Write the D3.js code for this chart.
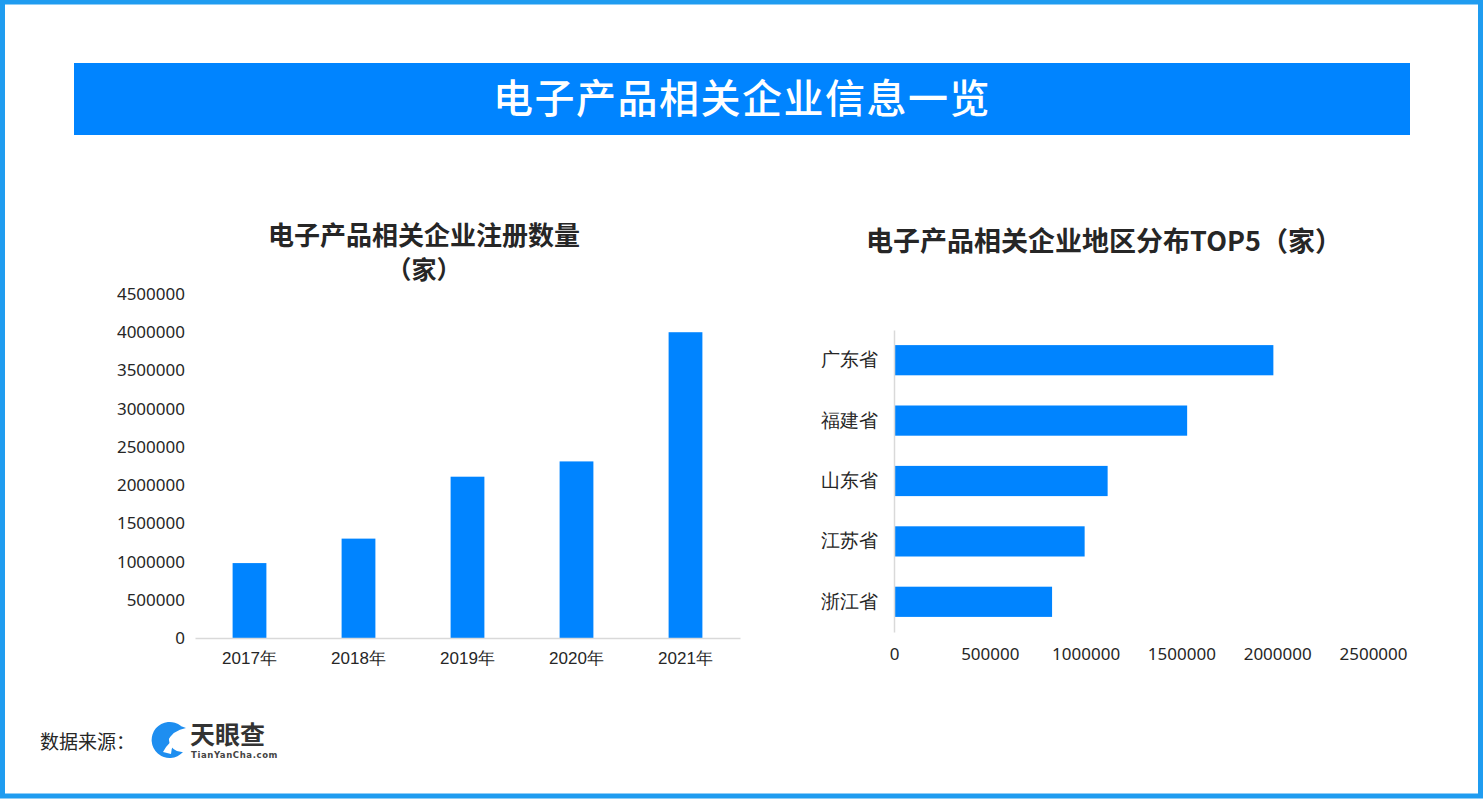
<!DOCTYPE html>
<html><head><meta charset="utf-8">
<script src="https://cdn.jsdelivr.net/npm/d3@7"></script>
<style>
html,body{margin:0;padding:0;background:#fff;}
svg{display:block;font-family:"Noto Sans CJK SC","Noto Sans",sans-serif;}
</style></head>
<body>
<svg id="c" width="1484" height="800"></svg>
<script>
// ---- data ----
const mainTitle = "电子产品相关企业信息一览";
const leftTitle = ["电子产品相关企业注册数量", "（家）"];
const years = ["2017年", "2018年", "2019年", "2020年", "2021年"];
const regCounts = [980000, 1300000, 2110000, 2310000, 4000000];
const leftTicks = [0, 500000, 1000000, 1500000, 2000000, 2500000, 3000000, 3500000, 4000000, 4500000];
const rightTitle = "电子产品相关企业地区分布TOP5（家）";
const provinces = ["广东省", "福建省", "山东省", "江苏省", "浙江省"];
const provCounts = [1980000, 1530000, 1115000, 995000, 825000];
const rightTicks = [0, 500000, 1000000, 1500000, 2000000, 2500000];
const sourceLabel = "数据来源：";

const blue = "#0084ff";
const textCol = "#262626";
const svg = d3.select("#c");

// frame
svg.append("rect").attr("x",2.5).attr("y",2).attr("width",1478).attr("height",794)
  .attr("fill","none").attr("stroke","#1f9cf0").attr("stroke-width",5);

// header banner
svg.append("rect").attr("x",74).attr("y",63).attr("width",1336).attr("height",72).attr("fill",blue);
svg.append("text").attr("x",742).attr("y",113).attr("text-anchor","middle")
  .attr("fill","#fff").attr("font-size",40).attr("font-weight",500).attr("letter-spacing",1.5).text(mainTitle);

// ---- left chart ----
const lx = d3.scaleBand().domain(years).range([195,740]).paddingInner(0.69).paddingOuter(0.345);
const ly = d3.scaleLinear().domain([0,4500000]).range([638,294]);

svg.append("text").attr("x",424).attr("y",245).attr("text-anchor","middle")
  .attr("font-size",26).attr("font-weight",700).attr("fill",textCol).text(leftTitle[0]);
svg.append("text").attr("x",424).attr("y",279).attr("text-anchor","middle")
  .attr("font-size",25).attr("font-weight",700).attr("fill",textCol).text(leftTitle[1]);

const gl = svg.append("g");
gl.selectAll("rect.bar").data(regCounts).join("rect").attr("class","bar")
  .attr("x",(d,i)=>lx(years[i])).attr("width",lx.bandwidth())
  .attr("y",d=>ly(d)).attr("height",d=>ly(0)-ly(d)).attr("fill",blue);

const yAxisL = svg.append("g").attr("transform","translate(195,0)")
  .call(d3.axisLeft(ly).tickValues(leftTicks).tickFormat(d3.format("d")).tickSize(0).tickPadding(10));
yAxisL.select(".domain").remove();
yAxisL.selectAll("text").attr("font-size",17).attr("fill",textCol)
  .attr("font-family","'Noto Sans','Open Sans',sans-serif");

const xAxisL = svg.append("g").attr("transform","translate(0,638)")
  .call(d3.axisBottom(lx).tickSize(0).tickPadding(14));
xAxisL.select(".domain").attr("stroke","#d9d9d9").attr("stroke-width",1.5);
xAxisL.selectAll("text").attr("font-size",17).attr("fill",textCol);

// ---- right chart ----
const rx = d3.scaleLinear().domain([0,2500000]).range([894,1373]);
const ry = d3.scaleBand().domain(provinces).range([330,632]).paddingInner(0.5).paddingOuter(0.25);

svg.append("text").attr("x",1104).attr("y",251).attr("text-anchor","middle")
  .attr("font-size",27).attr("font-weight",700).attr("fill",textCol).text(rightTitle);

svg.append("g").selectAll("rect").data(provCounts).join("rect")
  .attr("x",rx(0)).attr("y",(d,i)=>ry(provinces[i])).attr("height",ry.bandwidth())
  .attr("width",d=>rx(d)-rx(0)).attr("fill",blue);

const yAxisR = svg.append("g").attr("transform","translate(894,0)")
  .call(d3.axisLeft(ry).tickSize(0).tickPadding(16));
yAxisR.select(".domain").attr("stroke","#d9d9d9").attr("stroke-width",1.5);
yAxisR.selectAll("text").attr("font-size",19).attr("fill",textCol);

const xAxisR = svg.append("g").attr("transform","translate(0,632)")
  .call(d3.axisBottom(rx).tickValues(rightTicks).tickFormat(d3.format("d")).tickSize(0).tickPadding(16));
xAxisR.select(".domain").remove();
xAxisR.selectAll("text").attr("font-size",17).attr("fill",textCol)
  .attr("font-family","'Noto Sans','Open Sans',sans-serif");

// ---- footer ----
svg.append("text").attr("x",40).attr("y",749).attr("font-size",19).attr("fill",textCol).text(sourceLabel);
// logo icon
const logo = svg.append("g").attr("transform","translate(169,740)");
logo.append("path").attr("d","M12,-14 A18,18 0 1 0 14,12 A11,11 0 1 1 12,-14 Z").attr("fill","#1e8ef0");
logo.append("path").attr("d","M-14,-6 Q0,-20 17,-12 Q4,-10 -2,2 Z").attr("fill","#1e8ef0");
logo.append("path").attr("d","M-6,12 Q0,0 12,-2 Q2,4 2,14 Z").attr("fill","#fff");
svg.append("text").attr("x",190).attr("y",744).attr("font-size",25).attr("font-weight",700)
  .attr("fill","#333").text("天眼查");
svg.append("text").attr("x",191).attr("y",758).attr("font-size",8.5).attr("font-weight",700)
  .attr("fill","#444").attr("letter-spacing",0.6).attr("font-family","'DejaVu Sans',sans-serif").text("TianYanCha.com");
</script>
</body></html>
